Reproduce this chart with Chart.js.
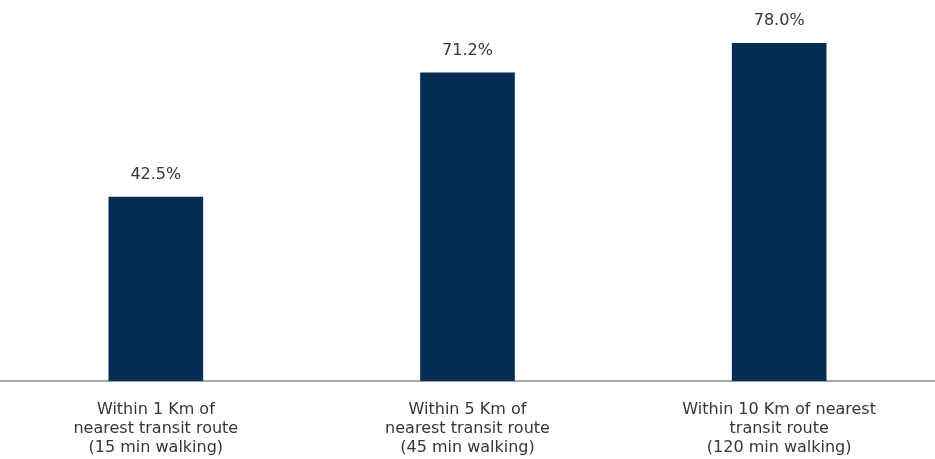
<!DOCTYPE html>
<html>
<head>
<meta charset="utf-8">
<script src="https://cdn.jsdelivr.net/npm/chart.js@4/dist/chart.umd.min.js"></script>
<style>
  html, body { margin: 0; padding: 0; background: #fff; }
  #wrap { width: 935px; height: 459px; position: relative; }
</style>
</head>
<body>
<div id="wrap"><canvas id="c"></canvas></div>
<script>
const categories = [
  ["Within 1 Km of", "nearest transit route", "(15 min walking)"],
  ["Within 5 Km of", "nearest transit route", "(45 min walking)"],
  ["Within 10 Km of nearest", "transit route", "(120 min walking)"]
];
const shareValues = [42.5, 71.2, 78.0];
const valueLabels = ["42.5%", "71.2%", "78.0%"];

const FONT = "'DejaVu Sans', 'Open Sans', sans-serif";

const valueLabelPlugin = {
  id: 'valueLabels',
  afterDatasetsDraw(chart) {
    const ctx = chart.ctx;
    const meta = chart.getDatasetMeta(0);
    ctx.save();
    ctx.font = "16px " + FONT;
    ctx.fillStyle = "#363636";
    ctx.textAlign = "center";
    ctx.textBaseline = "middle";
    meta.data.forEach((bar, i) => {
      ctx.fillText(valueLabels[i], bar.x, bar.y - 22);
    });
    ctx.restore();
  }
};

new Chart(document.getElementById('c'), {
  type: 'bar',
  data: {
    labels: categories,
    datasets: [{
      data: shareValues,
      backgroundColor: '#032d53',
      barThickness: 94
    }]
  },
  options: {
    responsive: true,
    maintainAspectRatio: false,
    animation: false,
    layout: { padding: { left: 0, right: 0, top: 0, bottom: 0 } },
    plugins: {
      legend: { display: false },
      tooltip: { enabled: false }
    },
    scales: {
      x: {
        grid: { display: false, drawTicks: false },
        border: { display: true, color: '#a6a6a6', width: 2 },
        ticks: {
          color: '#363636',
          font: { family: FONT, size: 16, lineHeight: 1.16 },
          padding: 20,
          maxRotation: 0,
          autoSkip: false
        },
        afterFit(scale) { scale.height = 78; }
      },
      y: {
        display: false,
        min: 0,
        max: 88
      }
    }
  },
  plugins: [valueLabelPlugin]
});
</script>
</body>
</html>
